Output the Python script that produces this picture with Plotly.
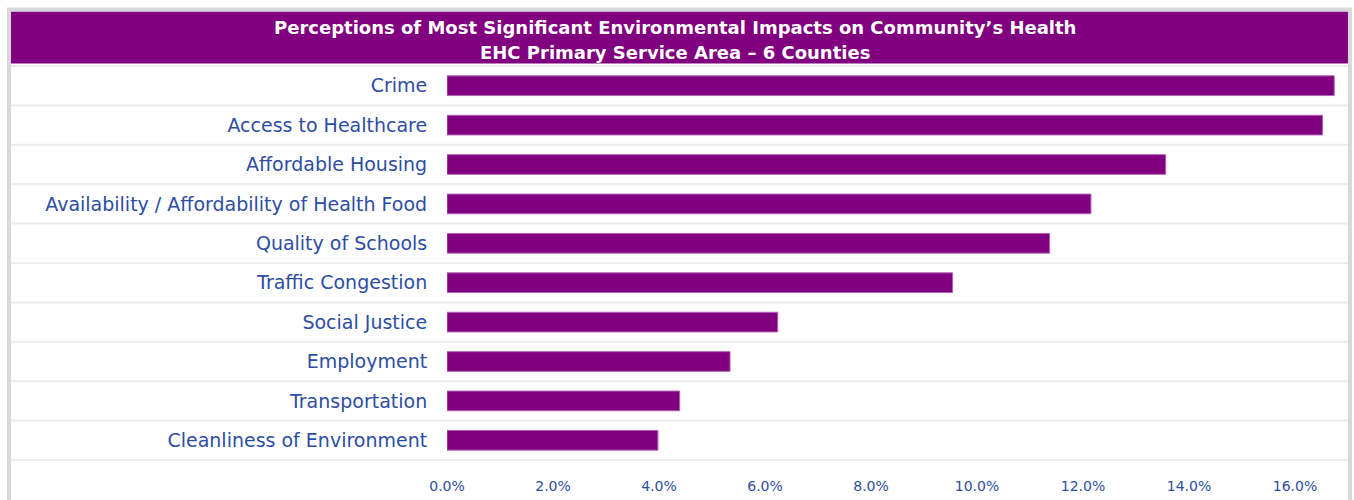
import plotly.graph_objects as go

# Survey results: share of respondents naming each impact (top to bottom)
categories = [
    "Crime",
    "Access to Healthcare",
    "Affordable Housing",
    "Availability / Affordability of Health Food",
    "Quality of Schools",
    "Traffic Congestion",
    "Social Justice",
    "Employment",
    "Transportation",
    "Cleanliness of Environment",
]
percent = [16.74, 16.52, 13.56, 12.15, 11.37, 9.54, 6.24, 5.34, 4.39, 3.98]
tick_values = [0, 2, 4, 6, 8, 10, 12, 14, 16]
tick_labels = ["0.0%", "2.0%", "4.0%", "6.0%", "8.0%", "10.0%", "12.0%", "14.0%", "16.0%"]

title_lines = [
    "Perceptions of Most Significant Environmental Impacts on Community\u2019s Health",
    "EHC Primary Service Area \u2013 6 Counties",
]

PURPLE = "#800080"
TEXT_BLUE = "#2E4DA3"
GRID = "#EDEDED"
FRAME = "#D9D9D9"
FONT = "Century Gothic, DejaVu Sans, sans-serif"

W, H = 1354, 500
ML, MR, MT, MB = 447, 6, 65, 35
plot_w = W - ML - MR
plot_h = H - MT - MB


def px_x(p):
    return (p - ML) / plot_w


def px_y(p):
    return (H - MB - p) / plot_h


fig = go.Figure(
    go.Bar(
        x=percent,
        y=categories,
        orientation="h",
        marker=dict(color=PURPLE, line=dict(color="#B464B4", width=1)),
        hoverinfo="skip",
    )
)

shapes = []
# horizontal separators between category rows, spanning the full frame width
for i in range(len(categories) + 1):
    shapes.append(dict(
        type="line", xref="paper", yref="y",
        x0=px_x(11), x1=px_x(1348), y0=i - 0.5, y1=i - 0.5,
        line=dict(color=GRID, width=2), layer="below",
    ))
# title banner
shapes.append(dict(
    type="rect", xref="paper", yref="paper",
    x0=px_x(11), x1=px_x(1348), y0=px_y(63.5), y1=px_y(11),
    fillcolor=PURPLE, line=dict(width=0), layer="above",
))
# outer frame
shapes.append(dict(
    type="rect", xref="paper", yref="paper",
    x0=px_x(9), x1=px_x(1350), y0=px_y(510), y1=px_y(9),
    fillcolor="rgba(0,0,0,0)", line=dict(color=FRAME, width=4), layer="above",
))

annotations = [
    dict(
        text=title_lines[0], xref="paper", yref="paper",
        x=px_x(675), y=px_y(27), xanchor="center", yanchor="middle",
        showarrow=False, font=dict(family=FONT, size=18, color="white", weight="bold"),
    ),
    dict(
        text=title_lines[1], xref="paper", yref="paper",
        x=px_x(675), y=px_y(52), xanchor="center", yanchor="middle",
        showarrow=False, font=dict(family=FONT, size=18, color="white", weight="bold"),
    ),
]

fig.update_layout(
    width=W, height=H,
    margin=dict(l=ML, r=MR, t=MT, b=MB, pad=0),
    paper_bgcolor="white", plot_bgcolor="white",
    bargap=0.5,
    showlegend=False,
    shapes=shapes,
    annotations=annotations,
    xaxis=dict(
        range=[0, 17], tickvals=tick_values, ticktext=tick_labels,
        showgrid=False, zeroline=False, showline=False,
        ticks="outside", ticklen=12, tickcolor="rgba(0,0,0,0)",
        tickfont=dict(family=FONT, size=14, color=TEXT_BLUE),
    ),
    yaxis=dict(
        autorange="reversed", showgrid=False, zeroline=False, showline=False,
        ticks="outside", ticklen=15, tickcolor="rgba(0,0,0,0)",
        tickfont=dict(family=FONT, size=19, color=TEXT_BLUE),
    ),
)

fig.write_html("out.html")
